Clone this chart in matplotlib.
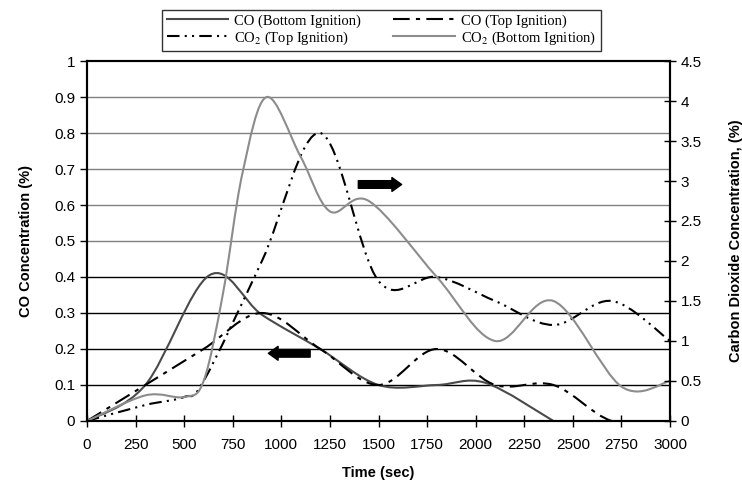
import matplotlib
matplotlib.use('Agg')
import matplotlib.pyplot as plt
from matplotlib.path import Path
from matplotlib.patches import PathPatch
from matplotlib.lines import Line2D

plt.rcParams['font.family'] = ['Liberation Sans', 'DejaVu Sans']
plt.rcParams['mathtext.fontset'] = 'stix'

# Data (time in seconds)
co_bottom_t = [0, 300, 630, 900, 1200, 1500, 1800, 2050, 2400]
co_bottom = [0, 0.1, 0.405, 0.295, 0.2, 0.1, 0.1, 0.106, 0]

co_top_t = [0, 300, 600, 900, 1200, 1500, 1800, 2100, 2400, 2700, 3000]
co_top = [0, 0.1, 0.2, 0.3, 0.2, 0.1, 0.2, 0.1, 0.1, 0, 0]

co2_top_t = [0, 300, 500, 600, 900, 1200, 1500, 1800, 2100, 2400, 2700, 3000]
co2_top = [0, 0.2, 0.3, 0.5, 2.0, 3.6, 1.75, 1.8, 1.5, 1.2, 1.5, 1.0]

co2_bottom_t = [0, 300, 500, 600, 700, 800, 925, 1100, 1250, 1450, 1800, 2100, 2400, 2750, 3000]
co2_bottom = [0, 0.32, 0.3, 0.5, 1.6, 3.1, 4.05, 3.3, 2.62, 2.75, 1.8, 1.0, 1.5, 0.43, 0.5]

labels = ['CO (Bottom Ignition)', 'CO (Top Ignition)',
          'CO$_2$ (Top Ignition)', 'CO$_2$ (Bottom Ignition)']


def smooth_path(xs, ys):
    # Excel-style smoothed line: cubic Bezier segments through the points
    pts = list(zip(xs, ys))
    n = len(pts)
    verts = [pts[0]]
    codes = [Path.MOVETO]
    for i in range(n - 1):
        p0 = pts[i - 1] if i > 0 else pts[i]
        p1 = pts[i]
        p2 = pts[i + 1]
        p3 = pts[i + 2] if i + 2 < n else pts[i + 1]
        c1 = (p1[0] + (p2[0] - p0[0]) / 6, p1[1] + (p2[1] - p0[1]) / 6)
        c2 = (p2[0] - (p3[0] - p1[0]) / 6, p2[1] - (p3[1] - p1[1]) / 6)
        verts += [c1, c2, p2]
        codes += [Path.CURVE4] * 3
    return Path(verts, codes)


styles = {
    'cob': dict(color='#4a4a4a', lw=1.5, ls='-'),
    'cot': dict(color='black', lw=1.5, ls=(0, (8, 3, 2, 3))),
    'co2t': dict(color='black', lw=1.5, ls=(0, (6, 2.5, 1, 2.5, 1, 2.5))),
    'co2b': dict(color='#8c8c8c', lw=1.5, ls='-'),
}

fig = plt.figure(figsize=(7.42, 4.94), dpi=100)
ax = fig.add_axes([0.1173, 0.1478, 0.7857, 0.7287])
ax2 = ax.twinx()

# horizontal gridlines
for v in [0.1, 0.2, 0.3, 0.4, 0.5, 0.6, 0.7, 0.8, 0.9]:
    ax.axhline(v, color='black' if v < 0.45 else '#808080', lw=1.0, zorder=0)

for key, t, vals, axis in [('cob', co_bottom_t, co_bottom, ax),
                           ('cot', co_top_t, co_top, ax),
                           ('co2t', co2_top_t, co2_top, ax2),
                           ('co2b', co2_bottom_t, co2_bottom, ax2)]:
    s = styles[key]
    patch = PathPatch(smooth_path(t, vals), facecolor='none', edgecolor=s['color'],
                      lw=s['lw'], linestyle=s['ls'], capstyle='butt')
    axis.add_patch(patch)

ax.set_xlim(0, 3000)
ax.set_ylim(0, 1)
ax2.set_ylim(0, 4.5)
ax.set_xticks(range(0, 3001, 250))
ax.set_yticks([i / 10 for i in range(11)])
ax.set_yticklabels(['0', '0.1', '0.2', '0.3', '0.4', '0.5', '0.6', '0.7', '0.8', '0.9', '1'])
ax2.set_yticks([i / 2 for i in range(10)])
ax2.set_yticklabels(['0', '0.5', '1', '1.5', '2', '2.5', '3', '3.5', '4', '4.5'])

ax.tick_params(axis='both', labelsize=11, direction='out', length=5, width=1)
ax.tick_params(axis='x', direction='inout', length=8, pad=8)
ax2.tick_params(axis='y', labelsize=11, direction='inout', length=8, width=1)
for a in (ax, ax2):
    for sp in a.spines.values():
        sp.set_linewidth(1.5)

ax.set_xlabel('Time (sec)', fontsize=10.5, fontweight='bold', labelpad=10)
ax.set_ylabel('CO Concentration (%)', fontsize=10.5, fontweight='bold', labelpad=15)
ax2.set_ylabel('Carbon Dioxide Concentration, (%)', fontsize=10.5, fontweight='bold', labelpad=20)

# direction arrows
arrow = dict(arrowstyle='simple,head_length=0.7,head_width=1.0,tail_width=0.55',
             color='black', shrinkA=0, shrinkB=0)
ax.annotate('', xy=(933, 0.188), xytext=(1148, 0.188), arrowprops=arrow)
ax.annotate('', xy=(1619, 0.657), xytext=(1396, 0.657), arrowprops=arrow)

handles = [Line2D([], [], color=styles[k]['color'], lw=styles[k]['lw'],
                  ls=styles[k]['ls']) for k in ['cob', 'cot', 'co2t', 'co2b']]
order = [0, 2, 1, 3]
leg = fig.legend([handles[i] for i in order], [labels[i] for i in order],
                 loc='upper center', bbox_to_anchor=(0.514, 0.995), ncol=2,
                 prop={'family': 'Liberation Serif', 'size': 10.5},
                 frameon=True, fancybox=False, edgecolor='black',
                 handlelength=4.2, handletextpad=0.45, columnspacing=2.2,
                 labelspacing=0.12, borderpad=0.3)
leg.get_frame().set_linewidth(1.0)

fig.savefig('out.png', dpi=100)
